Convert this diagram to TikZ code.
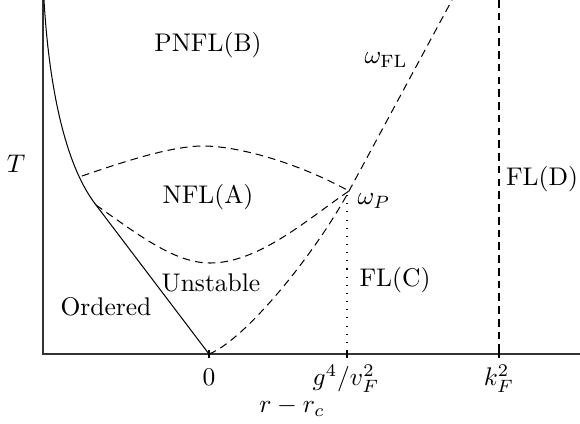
\documentclass[tikz,border=0pt]{standalone}
\begin{document}
\begin{tikzpicture}[x=0.392pt,y=-0.392pt,
  axisline/.style={line width=0.6pt,black!80},
  phase/.style={line width=0.4pt},
  bound/.style={line width=0.4pt,dash pattern=on 3pt off 2pt},
  dotline/.style={line width=0.4pt,dash pattern=on 0.4pt off 2.8pt},
  lbl/.style={inner sep=0pt,font=\normalsize}]
\useasboundingbox (0,0) rectangle (580,423);
% axes
\coordinate (ytop) at (43,0);
\coordinate (O0) at (43,354);
\coordinate (xend) at (580,354);
\draw[axisline] (ytop) -- (O0) -- (xend);
% key points
\coordinate (zero) at (209,354);
\coordinate (gv) at (347,354);
\coordinate (kf) at (499,354);
\coordinate (kftop) at (499,0);
\coordinate (wp) at (349,191);
\coordinate (wpdot) at (347,195);
\coordinate (wfltop) at (452,0);
\coordinate (curvetop) at (44,0);
\coordinate (pu) at (82,176);
\coordinate (pl) at (96,205);
% ticks
\draw[phase] ([yshift=-1.6pt]zero) -- ([yshift=1.6pt]zero);
\draw[phase] ([yshift=-1.6pt]gv) -- ([yshift=1.6pt]gv);
\draw[phase] ([yshift=-1.6pt]kf) -- ([yshift=1.6pt]kf);
% ordered boundary
\draw[phase] (curvetop) .. controls (48,70) and (61,160) .. (pl) -- (zero);
% upper dashed (NFL/PNFL)
\draw[bound] (pu) .. controls (120,163) and (170,146) .. (203,146)
  .. controls (240,146) and (300,164) .. (wp);
% lower dashed
\draw[bound] (pl) .. controls (140,236) and (175,263) .. (210,263)
  .. controls (260,263) and (310,217) .. (wp);
% unstable boundary and omega_FL
\draw[bound] (zero) .. controls (245,340) and (315,254) .. (wp) -- (wfltop);
% dotted
\draw[dotline] (wpdot) -- (gv);
% k_F^2 line
\draw[bound] (kftop) -- (kf);
% labels
\node[lbl] (b) at (208,45) {PNFL(B)};
\node[lbl] (wfl) at (386,60) {$\omega_{\mathrm{FL}}$};
\node[lbl] (T) at (16,164) {$T$};
\node[lbl] (a) at (208,197) {NFL(A)};
\node[lbl,anchor=west] (wpl) at (357,201) {$\omega_P$};
\node[lbl] (d) at (542,179) {FL(D)};
\node[lbl] (un) at (211,283) {Unstable};
\node[lbl] (ord) at (106,307) {Ordered};
\node[lbl] (c) at (395,280) {FL(C)};
\node[lbl] (z) at (209,377) {$0$};
\node[lbl] (g) at (346,379) {$g^4/v_F^2$};
\node[lbl] (k) at (499,379) {$k_F^2$};
\node[lbl] (r) at (292,407) {$r-r_c$};
\end{tikzpicture}
\end{document}
